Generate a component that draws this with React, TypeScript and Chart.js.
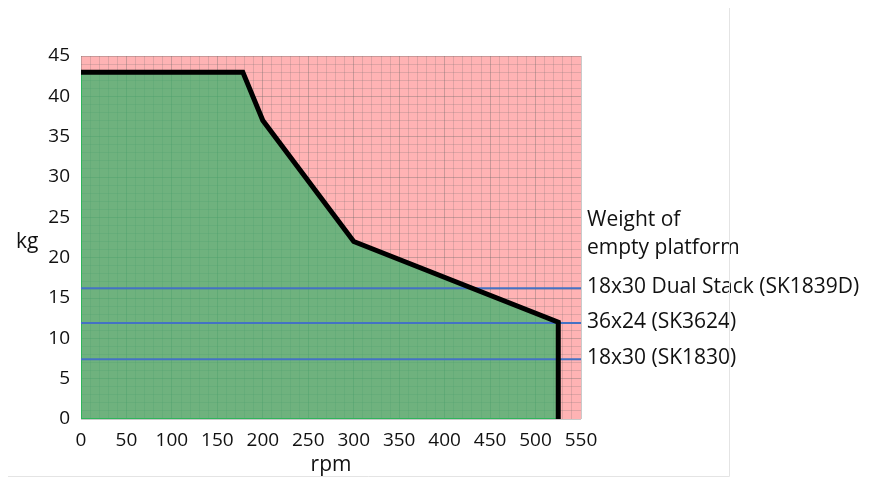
import React, { useEffect, useRef } from "react";
import { Chart, registerables } from "chart.js";

Chart.register(...registerables);

// Curve of maximum load vs speed
const rpmPoints = [0, 178, 200, 300, 525, 525];
const maxLoadKg = [43, 43, 37, 22, 12, 0];

// Platform weights (horizontal reference lines)
const platformLabels = ["18x30 Dual Stack (SK1839D)", "36x24 (SK3624)", "18x30 (SK1830)"];
const platformWeights = [16.2, 11.9, 7.4];
const legendTitle = ["Weight of", "empty platform"];

const xMin = 0;
const xMax = 550;
const yMin = 0;
const yMax = 45;

const FONT = "'Open Sans', sans-serif";

export default function App() {
  const ref = useRef<HTMLCanvasElement>(null);

  useEffect(() => {
    document.body.style.margin = "0";
    const canvas = ref.current!;

    const curve = rpmPoints.map((x, i) => ({ x, y: maxLoadKg[i] }));
    const area = [{ x: rpmPoints[0], y: 0 }, ...curve];
    const baseEdge = [
      { x: rpmPoints[0], y: 0 },
      { x: rpmPoints[rpmPoints.length - 1], y: 0 },
    ];

    const plugin = {
      id: "decor",
      beforeDraw(chart: any) {
        const { ctx, chartArea: a } = chart;
        ctx.save();
        ctx.fillStyle = "#ffb3b4";
        ctx.fillRect(a.left, a.top, a.right - a.left, a.bottom - a.top);
        ctx.restore();
      },
      afterDraw(chart: any) {
        const { ctx, chartArea: a, scales } = chart;
        const ys = scales.y;
        ctx.save();
        ctx.fillStyle = "#111";
        ctx.textBaseline = "middle";
        ctx.font = `21px ${FONT}`;
        ctx.textAlign = "left";
        ctx.fillText("kg", 16, 242);
        ctx.textAlign = "center";
        ctx.fillText("rpm", (a.left + a.right) / 2, 465);
        ctx.textAlign = "left";
        const tx = a.right + 6;
        const firstY = ys.getPixelForValue(platformWeights[0]);
        ctx.fillText(legendTitle[0], tx, firstY - 68);
        ctx.fillText(legendTitle[1], tx, firstY - 40);
        platformLabels.forEach((lab, i) => {
          ctx.fillText(lab, tx, ys.getPixelForValue(platformWeights[i]) - 1);
        });
        // frame
        ctx.strokeStyle = "#e4e4e4";
        ctx.lineWidth = 1;
        ctx.beginPath();
        ctx.moveTo(729.5, 8);
        ctx.lineTo(729.5, 476.5);
        ctx.lineTo(8, 476.5);
        ctx.stroke();
        ctx.restore();
      },
    };

    const gridColor = (major: number) => (c: any) =>
      c.tick && Math.round(c.tick.value) % major === 0
        ? "rgba(100,100,100,0.34)"
        : "rgba(110,110,110,0.22)";

    const chart = new Chart(canvas, {
      type: "line",
      data: {
        datasets: [
          {
            data: curve,
            borderColor: "#000",
            borderWidth: 5,
            borderJoinStyle: "miter",
            pointRadius: 0,
            fill: false,
            order: 0,
          },
          ...platformWeights.map((w) => ({
            data: [
              { x: xMin, y: w },
              { x: xMax, y: w },
            ],
            borderColor: "#4472c4",
            borderWidth: 2,
            pointRadius: 0,
            fill: false,
            order: 1,
          })),
          {
            data: baseEdge,
            borderColor: "#2fb55a",
            borderWidth: 2,
            pointRadius: 0,
            fill: false,
            order: 2,
          },
          {
            data: area,
            borderColor: "#2fb55a",
            borderWidth: 2,
            backgroundColor: "rgba(55,178,105,0.72)",
            pointRadius: 0,
            fill: "origin",
            order: 3,
          },
        ] as any,
      },
      options: {
        responsive: false,
        animation: false,
        layout: { padding: { left: 0, right: 288, top: 56, bottom: 0 } },
        plugins: { legend: { display: false }, tooltip: { enabled: false } },
        scales: {
          x: {
            type: "linear",
            min: xMin,
            max: xMax,
            afterFit(s: any) {
              s.height = 58;
            },
            ticks: {
              stepSize: 10,
              autoSkip: false,
              maxRotation: 0,
              padding: 10,
              color: "#111",
              font: { family: FONT, size: 19 },
              callback: (v: any) => (Math.round(v) % 50 === 0 ? String(v) : ""),
            },
            grid: { color: gridColor(50), drawTicks: false },
            border: { display: false },
          },
          y: {
            type: "linear",
            min: yMin,
            max: yMax,
            afterFit(s: any) {
              s.width = 81;
            },
            ticks: {
              stepSize: 1,
              autoSkip: false,
              padding: 11,
              color: "#111",
              font: { family: FONT, size: 19 },
              callback: (v: any) => (Math.round(v) % 5 === 0 ? String(v) : ""),
            },
            grid: { color: gridColor(5), drawTicks: false },
            border: { display: false },
          },
        },
      } as any,
      plugins: [plugin],
    });
    return () => chart.destroy();
  }, []);

  return <canvas ref={ref} width={869} height={477} style={{ display: "block" }} />;
}
